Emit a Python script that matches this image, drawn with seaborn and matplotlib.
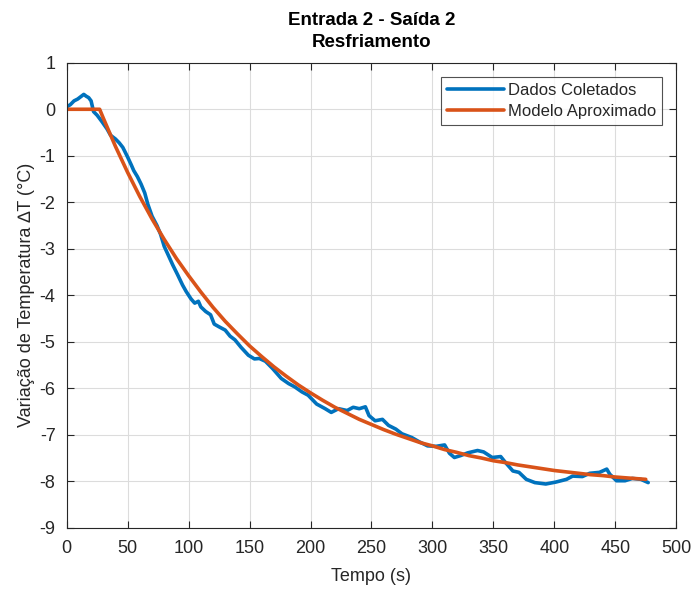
import matplotlib
matplotlib.use("Agg")
import matplotlib.pyplot as plt
import seaborn as sns
import pandas as pd

t_data = [0, 3, 6, 9, 12, 14, 16, 18, 20, 22, 25, 29, 33, 36, 40, 43, 46, 50, 53, 55,
          58, 61, 64, 66.5, 70, 74, 77, 80, 83, 87, 91, 95, 98, 102, 105, 108, 110, 114,
          118, 121, 125, 130, 134, 138, 143, 149, 154, 158, 163, 166, 169, 173, 176, 182,
          187, 193, 198, 205, 212, 217, 223, 230, 235, 240, 245, 248, 253, 259, 264, 270,
          275, 283, 289, 296, 303, 310, 314, 318, 323, 329, 337, 342, 349, 356, 360, 366,
          371, 377, 384, 393, 401, 410, 415, 423, 429, 437, 443, 445.5, 451, 458, 464,
          471, 477]
v_data = [0.05, 0.10, 0.18, 0.22, 0.28, 0.32, 0.28, 0.25, 0.18, -0.05, -0.13, -0.27,
          -0.42, -0.56, -0.64, -0.72, -0.82, -1.03, -1.20, -1.32, -1.45, -1.61, -1.80,
          -2.04, -2.30, -2.50, -2.69, -2.95, -3.12, -3.35, -3.56, -3.78, -3.92, -4.08,
          -4.17, -4.13, -4.25, -4.35, -4.42, -4.62, -4.68, -4.75, -4.88, -4.96, -5.12,
          -5.29, -5.37, -5.36, -5.42, -5.50, -5.58, -5.70, -5.79, -5.90, -5.97, -6.08,
          -6.15, -6.34, -6.44, -6.52, -6.44, -6.48, -6.41, -6.44, -6.40, -6.59, -6.70,
          -6.67, -6.80, -6.88, -6.98, -7.06, -7.15, -7.24, -7.25, -7.22, -7.40, -7.49,
          -7.45, -7.39, -7.34, -7.37, -7.49, -7.47, -7.60, -7.78, -7.81, -7.96, -8.03,
          -8.06, -8.02, -7.96, -7.89, -7.90, -7.83, -7.81, -7.74, -7.85, -7.99, -7.99,
          -7.94, -7.96, -8.03]

# Approximated model
t_model = [0, 10, 20, 27, 30, 40, 50, 60, 70, 80, 90, 100, 110, 120, 130, 140, 150, 160,
           170, 180, 190, 200, 210, 220, 230, 240, 250, 260, 270, 280, 290, 300, 310,
           320, 330, 340, 350, 360, 370, 380, 390, 400, 410, 420, 430, 440, 450, 460,
           470, 475]
v_model = [0, 0, 0, 0, -0.19, -0.80, -1.36, -1.88, -2.36, -2.80, -3.21, -3.58, -3.93,
           -4.26, -4.56, -4.83, -5.09, -5.32, -5.54, -5.74, -5.93, -6.10, -6.26, -6.41,
           -6.54, -6.67, -6.78, -6.89, -6.99, -7.08, -7.17, -7.24, -7.32, -7.38, -7.45,
           -7.50, -7.56, -7.60, -7.65, -7.69, -7.73, -7.77, -7.80, -7.83, -7.86, -7.88,
           -7.91, -7.93, -7.95, -7.96]

labels = ["Dados Coletados", "Modelo Aproximado"]
x_ticks = [0, 50, 100, 150, 200, 250, 300, 350, 400, 450, 500]
y_ticks = [1, 0, -1, -2, -3, -4, -5, -6, -7, -8, -9]

df = pd.concat([
    pd.DataFrame({"t": t_data, "v": v_data, "serie": labels[0]}),
    pd.DataFrame({"t": t_model, "v": v_model, "serie": labels[1]}),
], ignore_index=True)

sns.set_theme(style="whitegrid")
plt.rcParams["font.family"] = ["Liberation Sans", "DejaVu Sans"]
plt.rcParams["axes.unicode_minus"] = False

fig = plt.figure(figsize=(6.95, 5.9), dpi=100)
ax = fig.add_axes([0.096, 0.1056, 0.877, 0.788])

sns.lineplot(data=df, x="t", y="v", hue="serie", ax=ax,
             palette={labels[0]: "#0072BD", labels[1]: "#D95319"},
             linewidth=2.6, sort=False, estimator=None, legend=True)

ax.set_xlim(0, 500)
ax.set_ylim(-9, 1)
ax.set_xticks(x_ticks)
ax.set_yticks(y_ticks)
ax.set_facecolor("white")
ax.grid(True, color="#dcdcdc", linewidth=0.8)
for s in ax.spines.values():
    s.set_color("#262626")
    s.set_linewidth(0.8)
    s.set_visible(True)
ax.tick_params(direction="in", length=5, width=0.8, colors="#262626",
               labelsize=13, top=True, right=True, bottom=True, left=True,
               labelcolor="#262626")
ax.tick_params(axis="x", pad=9)
ax.tick_params(axis="y", pad=8)

ax.set_xlabel("Tempo (s)", fontsize=13, color="#262626", labelpad=8)
ax.set_ylabel("Variação de Temperatura ∆T (°C)", fontsize=13, color="#262626", labelpad=3)
ax.set_title("Entrada 2 - Saída 2\nResfriamento", fontsize=13.5, fontweight="bold",
             color="#000000", pad=11, linespacing=1.45)

leg = ax.legend(loc="upper right", fontsize=12, frameon=True, fancybox=False,
                edgecolor="#262626", borderaxespad=0.84, handlelength=3.4,
                handletextpad=0.25, borderpad=0.35, labelspacing=0.4)
leg.get_frame().set_linewidth(0.8)
for line in leg.get_lines():
    line.set_linewidth(2.6)

fig.savefig("out.png", dpi=100, facecolor="white")
